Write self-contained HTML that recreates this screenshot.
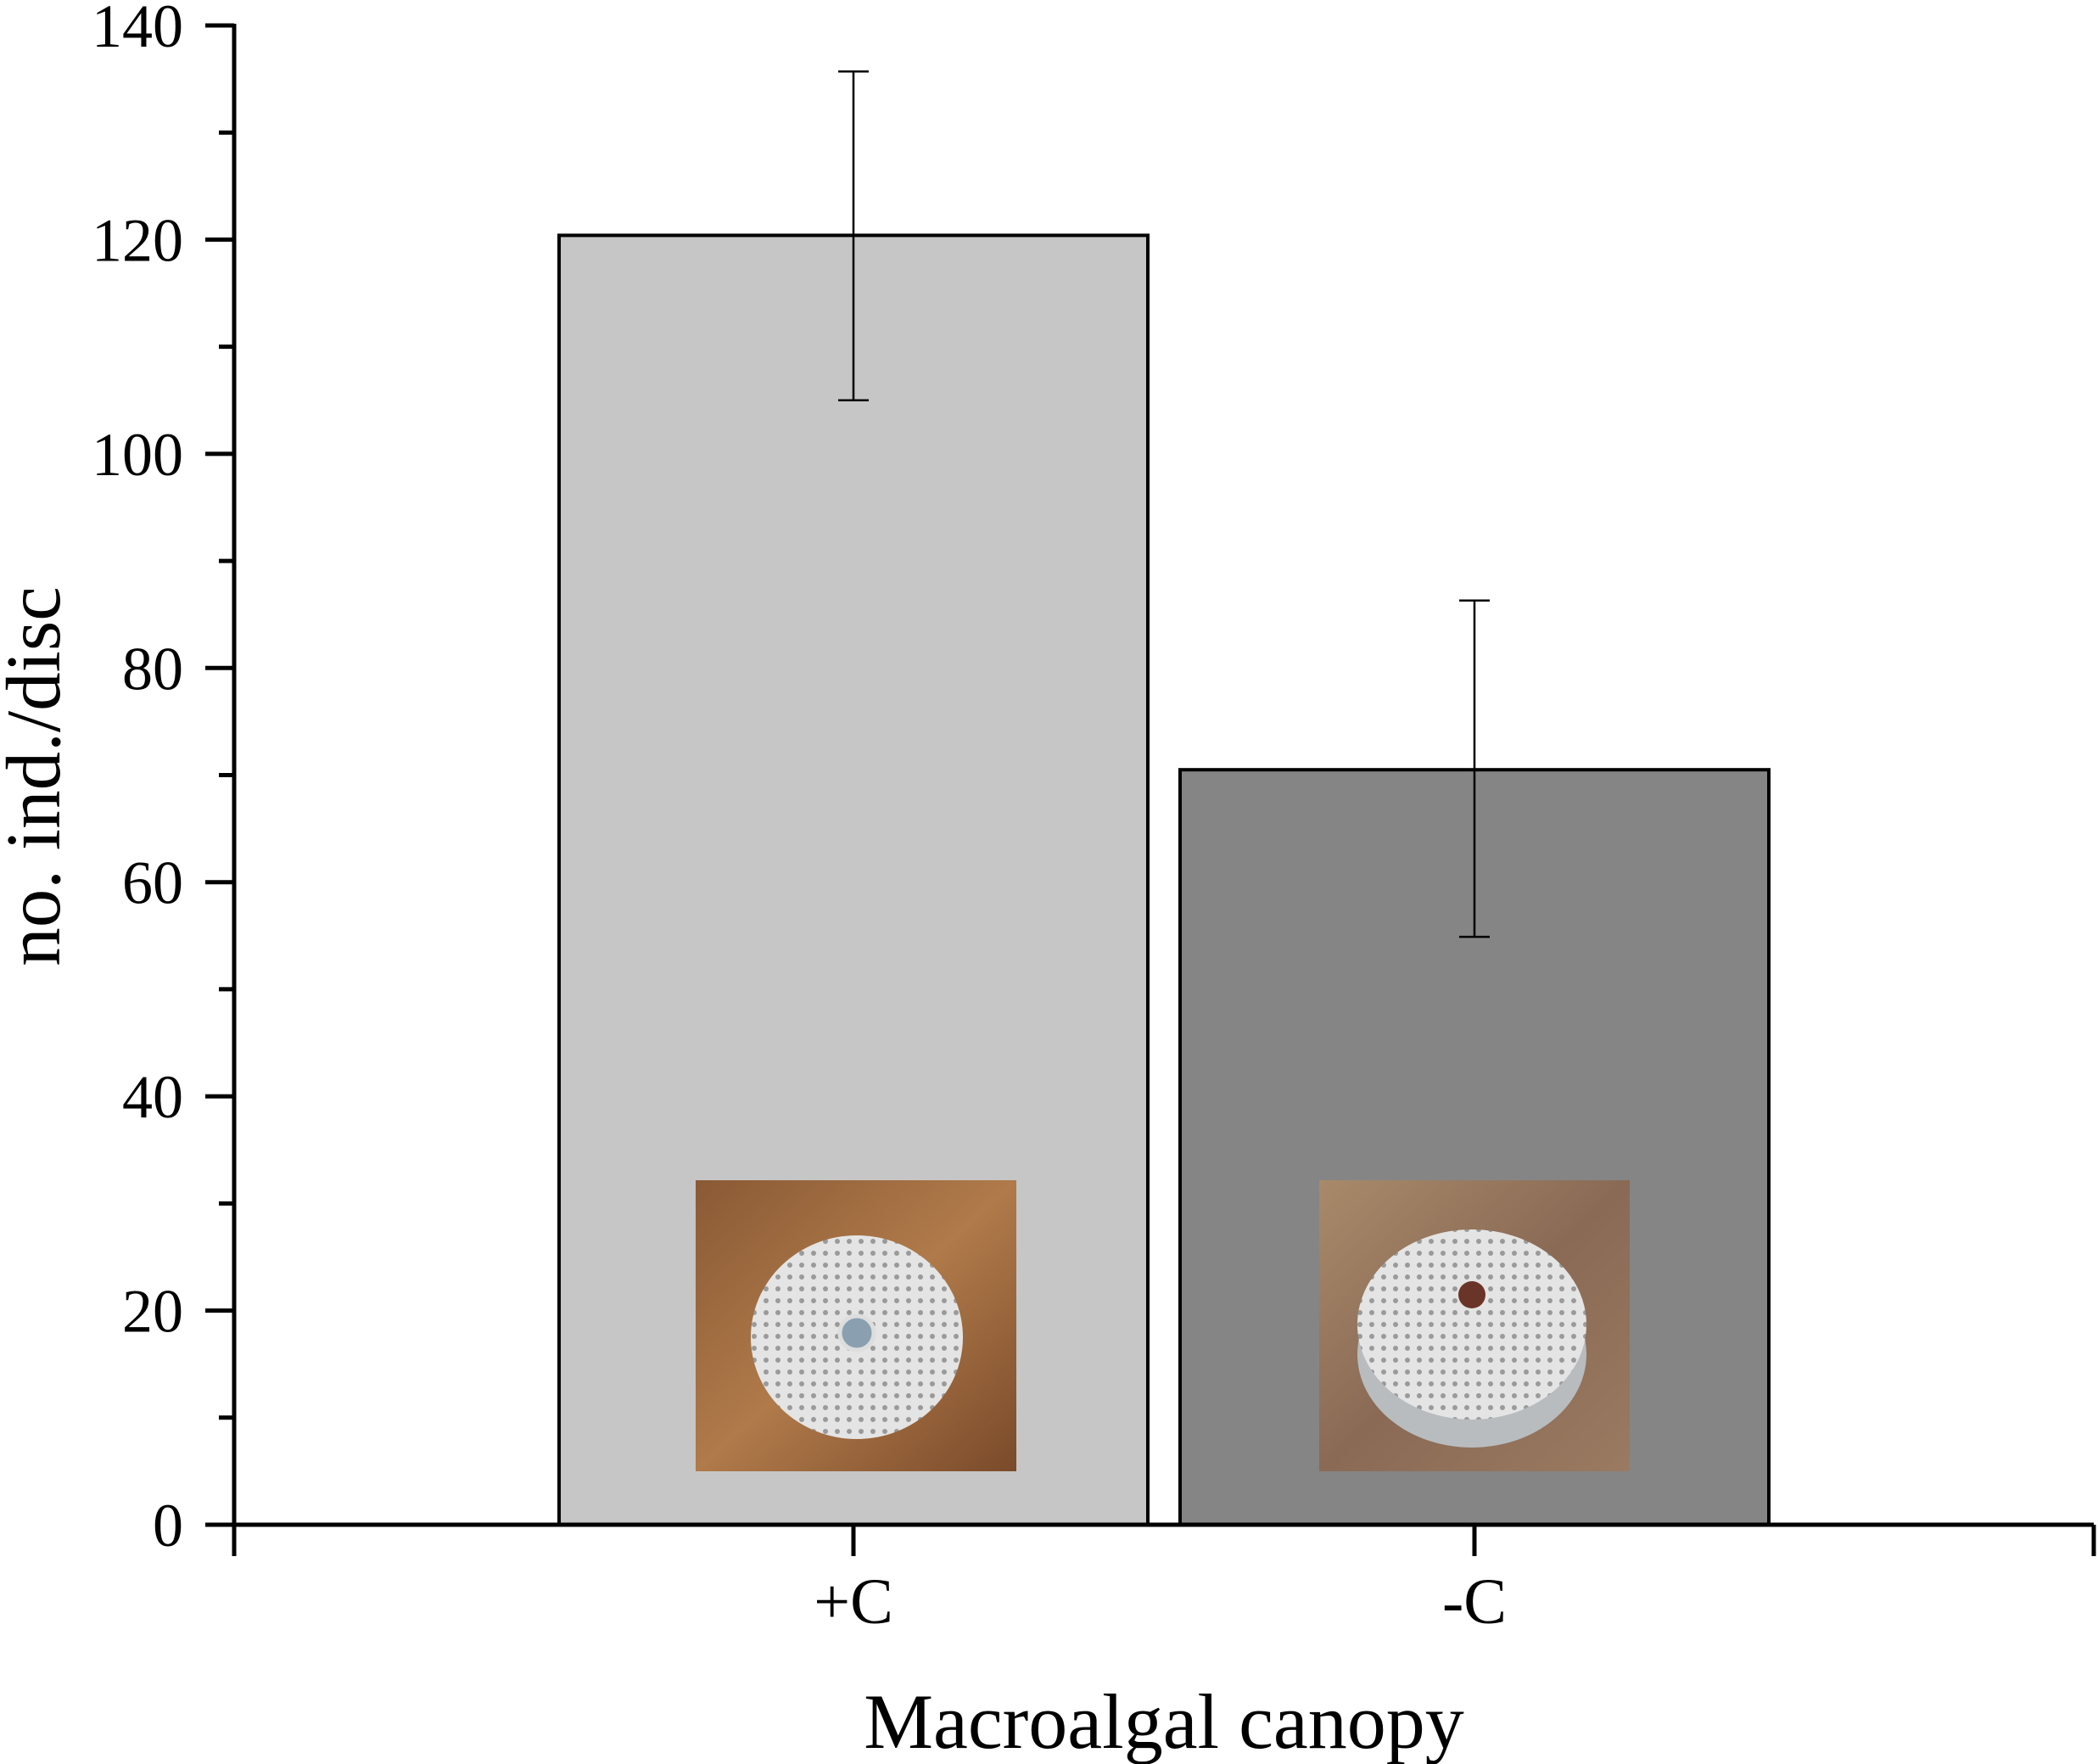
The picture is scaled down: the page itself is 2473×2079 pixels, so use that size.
<!DOCTYPE html>
<html><head><meta charset="utf-8"><style>html,body{margin:0;padding:0;background:#fff}svg{display:block}</style></head>
<body>
<svg id="chart" width="2473" height="2079" viewBox="0 0 2473 2079" xmlns="http://www.w3.org/2000/svg" font-family="'Liberation Serif', serif">
<defs>
<pattern id="holes" width="14" height="14" patternUnits="userSpaceOnUse"><rect width="14" height="14" fill="#e4e4e4"/><circle cx="7" cy="7" r="3" fill="#9a9a9a"/></pattern>
<linearGradient id="algae1" x1="0" y1="0" x2="1" y2="1"><stop offset="0" stop-color="#8a5a35"/><stop offset="0.5" stop-color="#b07a4a"/><stop offset="1" stop-color="#7a4a2a"/></linearGradient>
<linearGradient id="algae2" x1="0" y1="0" x2="1" y2="1"><stop offset="0" stop-color="#a88a6a"/><stop offset="0.5" stop-color="#8a6a55"/><stop offset="1" stop-color="#9a7a60"/></linearGradient>
</defs>
<g id="plot"></g>
<text transform="translate(70,915) rotate(-90)" text-anchor="middle" font-size="91">no. ind./disc</text>
<text x="1372" y="2060" text-anchor="middle" font-size="92">Macroalgal canopy</text>
</svg>
<script>
const categories = ['+C', '-C'];
const means = [120.4, 70.5];
const errHigh = [135.7, 86.3];
const errLow = [105.0, 54.9];
const yTicks = [0, 20, 40, 60, 80, 100, 120, 140];

const NS = 'http://www.w3.org/2000/svg';
const g = document.getElementById('plot');
const X0 = 276, X1 = 2468, Y0 = 1797, Y140 = 30;
const y = v => Y0 - (v / 140) * (Y0 - Y140);
const centers = [1006, 1738];
const barW = 694;
const fills = ['#c6c6c6', '#858585'];
function mk(tag, attrs) { const e = document.createElementNS(NS, tag); for (const k in attrs) e.setAttribute(k, attrs[k]); g.appendChild(e); return e; }

for (let i = 0; i < categories.length; i++) {
  const cx = centers[i];
  const b = mk('rect', {x: cx - barW / 2, y: y(means[i]), width: barW, height: Y0 - y(means[i]), fill: fills[i], stroke: '#000', 'stroke-width': 4});
  
  
  const pw = i === 0 ? 378 : 366, ph = 343;
  const px = cx - pw / 2 + (i === 0 ? 3 : 0), py = 1391;
  const p = mk('rect', {x: px, y: py, width: pw, height: ph, fill: i === 0 ? 'url(#algae1)' : 'url(#algae2)'});
  
  
  if (i === 0) {
    const d = mk('ellipse', {cx: px + 190, cy: py + 185, rx: 125, ry: 120, fill: 'url(#holes)'});
    
    
    const s = mk('circle', {cx: px + 190, cy: py + 180, r: 20, fill: '#8aa0b0', stroke: '#ddd', 'stroke-width': 5});
    
    
  } else {
    const r = mk('ellipse', {cx: px + 180, cy: py + 205, rx: 135, ry: 110, fill: '#b8bcbf'});
    
    
    const d = mk('ellipse', {cx: px + 180, cy: py + 170, rx: 135, ry: 112, fill: 'url(#holes)'});
    
    
    const s = mk('circle', {cx: px + 180, cy: py + 135, r: 16, fill: '#6a3528'});
    
    
  }
  const ev = mk('line', {x1: cx, x2: cx, y1: y(errHigh[i]), y2: y(errLow[i]), stroke: '#000', 'stroke-width': 2.5});
  
  
  for (const v of [errHigh[i], errLow[i]]) {
    const c = mk('line', {x1: cx - 18, x2: cx + 18, y1: y(v), y2: y(v), stroke: '#000', 'stroke-width': 2.5});
    
    
  }
  const t = mk('line', {x1: cx, x2: cx, y1: Y0, y2: 1834, stroke: '#000', 'stroke-width': 5});
  
  
  const l = mk('text', {x: cx, y: 1913, 'text-anchor': 'middle', 'font-size': 76});
  l.textContent = categories[i];
  
  
}

const ya = mk('line', {x1: X0, x2: X0, y1: Y140 - 2, y2: 1834, stroke: '#000', 'stroke-width': 5});


const xa = mk('line', {x1: 242, x2: X1, y1: Y0, y2: Y0, stroke: '#000', 'stroke-width': 5});


const xe = mk('line', {x1: X1, x2: X1, y1: Y0, y2: 1834, stroke: '#000', 'stroke-width': 5});



for (const v of yTicks) {
  const t = mk('line', {x1: 242, x2: X0, y1: y(v), y2: y(v), stroke: '#000', 'stroke-width': 5});
  
  
  const l = mk('text', {x: 216, y: y(v) + 25, 'text-anchor': 'end', 'font-size': 72});
  l.textContent = v;
  
  
  if (v < 140) {
    const m = mk('line', {x1: 258, x2: X0, y1: y(v + 10), y2: y(v + 10), stroke: '#000', 'stroke-width': 5});
    
    
  }
}
</script>
</body></html>
